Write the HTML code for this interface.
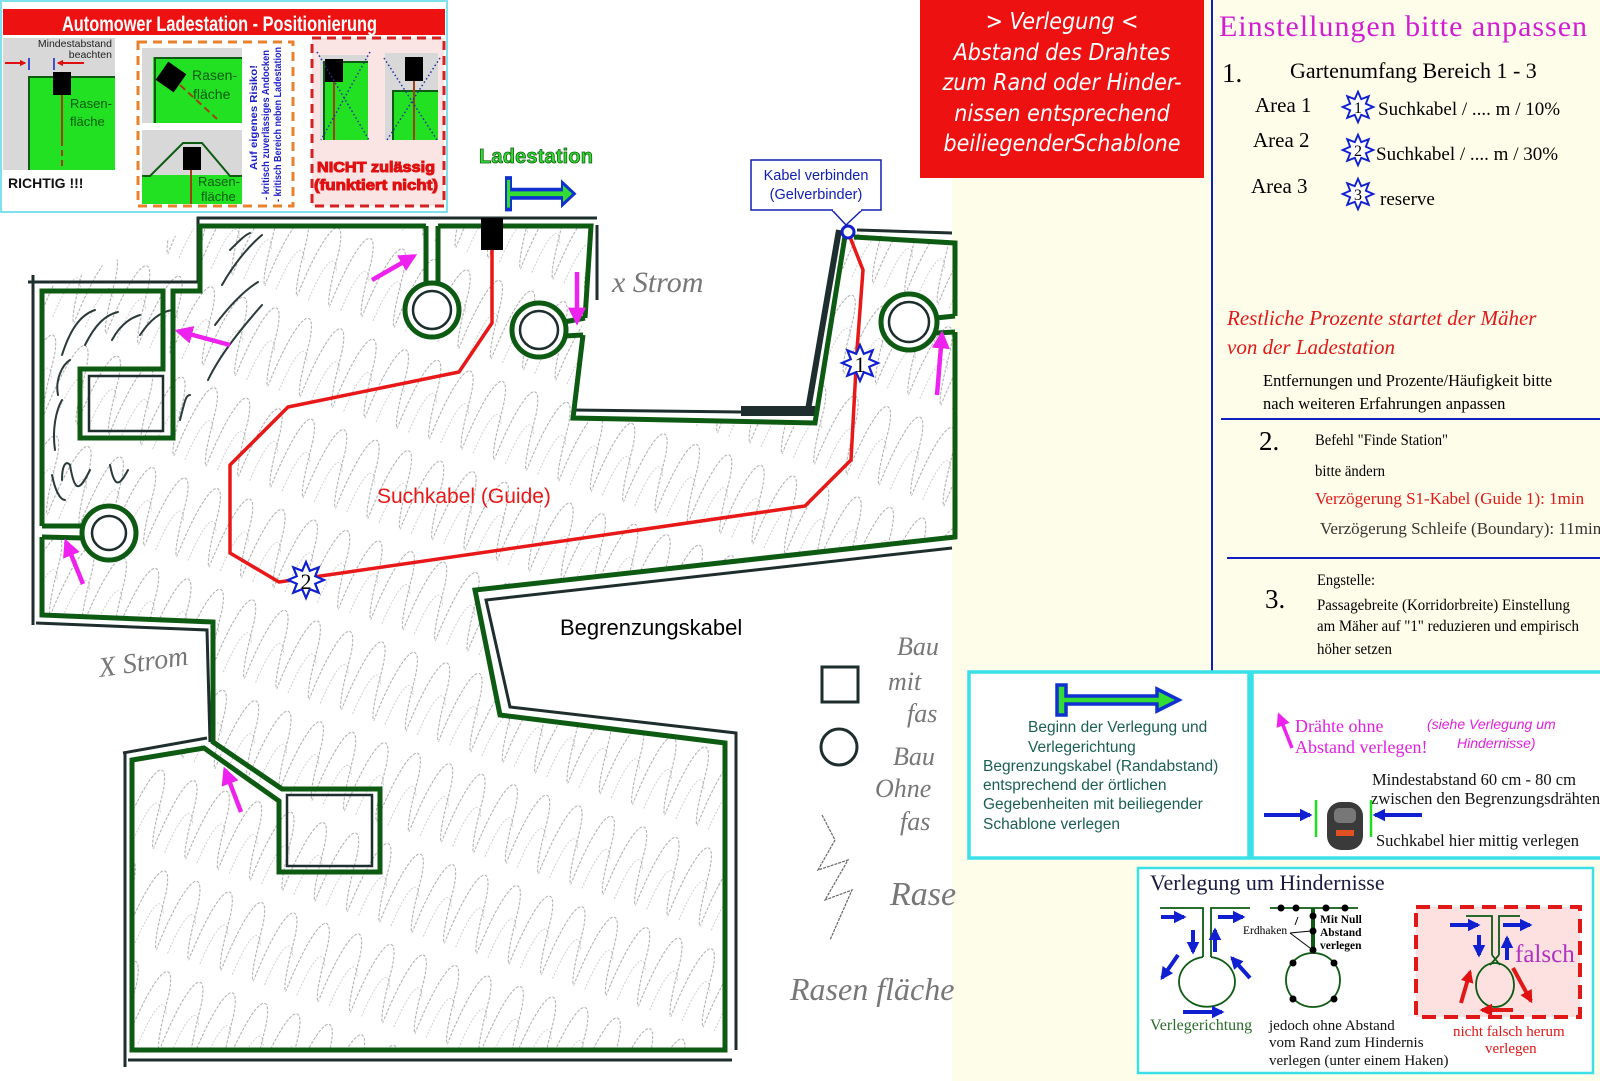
<!DOCTYPE html>
<html><head><meta charset="utf-8"><style>
html,body{margin:0;padding:0;background:#fff}
svg{display:block}
.sans{font-family:"Liberation Sans",sans-serif}
.serif{font-family:"Liberation Serif",serif}
.hand{font-family:"Liberation Serif",serif;font-style:italic;fill:#777}
</style></head><body>
<svg width="1600" height="1081" viewBox="0 0 1600 1081" xmlns="http://www.w3.org/2000/svg">
<defs>
<polygon id="star" points="0,-18 3.8,-9.2 12.7,-12.7 9.2,-3.8 18,0 9.2,3.8 12.7,12.7 3.8,9.2 0,18 -3.8,9.2 -12.7,12.7 -9.2,3.8 -18,0 -9.2,-3.8 -12.7,-12.7 -3.8,-9.2" fill="#fff" stroke="#1020d0" stroke-width="2.2"/>
<polygon id="startarrow" points="0,0 9,0 9,11 100,11 100,4 122,15 100,26 100,19 9,19 9,30 0,30" fill="#33dd33" stroke="#1030d0" stroke-width="3.5"/>
<marker id="mh" viewBox="0 0 10 10" refX="8" refY="5" markerWidth="4" markerHeight="4" orient="auto"><path d="M0,0 L10,5 L0,10 z" fill="#ee22ee"/></marker>
<marker id="bh" viewBox="0 0 10 10" refX="8" refY="5" markerWidth="3.2" markerHeight="3.2" orient="auto"><path d="M0,0 L10,5 L0,10 z" fill="#1020d0"/></marker>
<marker id="rh" viewBox="0 0 10 10" refX="8" refY="5" markerWidth="3.2" markerHeight="3.2" orient="auto"><path d="M0,0 L10,5 L0,10 z" fill="#e01010"/></marker>
<pattern id="scrib" width="34" height="95" patternUnits="userSpaceOnUse" patternTransform="rotate(18)">
<path d="M0,95 C6,10 22,0 26,40 C28,70 30,90 34,95" fill="none" stroke="#8a8a8a" stroke-width="0.9" stroke-dasharray="3 1.5"/>
<path d="M12,95 C16,50 24,40 30,60" fill="none" stroke="#aaa" stroke-width="0.7" stroke-dasharray="2 1.5"/>
</pattern>
<clipPath id="lawn"><polygon points="42,290 200,226 591,226 573,418 815,423 845,232 955,243 955,537 475,590 500,715 725,743 725,1050 132,1050 132,760 210,742 210,620 42,615"/></clipPath>
</defs>

<rect x="952" y="0" width="648" height="1081" fill="#fdfde9"/>

<rect x="0" y="200" width="960" height="860" fill="url(#scrib)" clip-path="url(#lawn)" opacity="0.8"/>
<g fill="none" stroke="#2a3a3a" stroke-width="2" stroke-linecap="round">
<path d="M62,355 C70,330 80,315 95,310"/><path d="M85,345 C95,325 105,315 118,312"/><path d="M112,340 C120,325 130,318 140,315"/><path d="M140,335 C150,320 160,312 172,310"/>
<path d="M58,395 C55,380 62,365 70,360"/><path d="M55,450 C52,430 56,410 62,400"/><path d="M52,475 C55,490 60,500 65,500"/>
<path d="M62,480 C62,465 66,460 70,465 C75,495 80,490 90,470"/>
<path d="M110,465 C115,490 120,485 128,470"/>
<path d="M230,250 C240,240 245,235 250,233"/><path d="M222,285 C235,262 250,245 262,235"/>
<path d="M215,325 C230,305 245,290 258,282"/><path d="M208,380 C220,355 240,330 262,305"/>
<path d="M180,420 C185,400 186,395 190,395"/>
</g>

<g fill="none" stroke="#1e2d2d" stroke-width="3">
<polyline points="28,282 198,282 198,218 597,218"/>
<line x1="597" y1="225" x2="597" y2="300"/>
<line x1="33" y1="275" x2="33" y2="625"/>
<polyline points="36,623 207,630 210,742"/>
<polyline points="123,753 207,738"/>
<polyline points="125,752 125,1067"/>
<polyline points="128,1060 732,1060"/>
<polyline points="736,1050 736,733 510,707 486,600 952,548"/>
<polyline points="573,410 741,412"/>
<polyline points="857,230 952,233"/>
</g>
<rect x="741" y="406" width="74" height="10" fill="#1e2d2d"/>
<line x1="808" y1="410" x2="839" y2="230" stroke="#1e2d2d" stroke-width="6"/>

<g fill="none" stroke="#0d5a12" stroke-width="5" stroke-linejoin="miter">
<polyline points="42,526 42,291 163,291 163,369 80,369 80,438 173,438 173,291 200,291 200,226 426,226"/>
<polyline points="438,226 591,226 585,318"/>
<polyline points="583,335 573,418 815,423 845,236"/>
<polyline points="854,237 955,243 955,316"/>
<polyline points="955,332 955,537 475,590 500,715 725,743 725,1050 132,1050 132,760 204,748 279,801 279,872 380,872 380,789 282,789 213,742 213,622 42,615 42,537"/>
<polyline points="426,226 426,284"/><polyline points="438,226 438,284"/>
<polyline points="585,318 564,322"/><polyline points="583,335 564,336"/>
<polyline points="955,316 936,318"/><polyline points="955,332 936,333"/>
<polyline points="42,526 84,526"/><polyline points="42,537 84,538"/>
</g>
<g fill="#fff" stroke="#0d5a12" stroke-width="5">
<circle cx="432" cy="310" r="27"/><circle cx="539" cy="330" r="27"/><circle cx="909" cy="322" r="28"/><circle cx="109" cy="533" r="27"/>
</g>
<g fill="none" stroke="#1e2d2d" stroke-width="2.5">
<circle cx="432" cy="310" r="19"/><circle cx="539" cy="330" r="19"/><circle cx="909" cy="322" r="20"/><circle cx="109" cy="533" r="17"/>
<rect x="89" y="376" width="74" height="55"/>
<rect x="287" y="795" width="85" height="71"/>
</g>

<rect x="481" y="218" width="22" height="32" fill="#000"/>

<polyline points="492,250 492,323 459,372 288,407 230,465 230,553 279,582 805,506 851,460 857,350 863,270 848,232" fill="none" stroke="#e81818" stroke-width="3.5" stroke-linejoin="round"/>
<circle cx="848" cy="232" r="6" fill="#fff" stroke="#1020d0" stroke-width="3"/>
<use href="#star" x="306" y="580"/><text x="306" y="589" text-anchor="middle" class="serif" font-size="22">2</text>
<use href="#star" x="860" y="363"/><text x="860" y="372" text-anchor="middle" class="serif" font-size="22">1</text>

<g stroke="#ee22ee" stroke-width="4.5" marker-end="url(#mh)">
<line x1="372" y1="280" x2="414" y2="256"/>
<line x1="230" y1="345" x2="178" y2="331"/>
<line x1="577" y1="272" x2="577" y2="322"/>
<line x1="937" y1="395" x2="942" y2="334"/>
<line x1="83" y1="584" x2="66" y2="542"/>
<line x1="241" y1="812" x2="225" y2="770"/>
</g>

<text x="377" y="503" class="sans" font-size="21" fill="#e81818">Suchkabel (Guide)</text>
<text x="560" y="635" class="sans" font-size="22" fill="#000">Begrenzungskabel</text>
<text x="612" y="292" class="hand" font-size="30">x Strom</text>
<text x="100" y="677" class="hand" font-size="28" transform="rotate(-8 100 677)">X Strom</text>

<rect x="822" y="667" width="36" height="35" fill="none" stroke="#1e2d2d" stroke-width="3"/>
<circle cx="839" cy="747" r="18" fill="none" stroke="#1e2d2d" stroke-width="3"/>
<g class="hand" font-size="26">
<text x="897" y="655">Bau</text><text x="888" y="690">mit</text><text x="907" y="722">fas</text>
<text x="893" y="765">Bau</text><text x="875" y="797">Ohne</text><text x="900" y="830">fas</text>
<text x="890" y="905" font-size="34">Rase</text><text x="790" y="1000" font-size="32">Rasen fläche</text>
</g>
<path d="M822,815 L835,840 L818,870 L848,860 L825,900 L852,890 L830,940" fill="none" stroke="#666" stroke-width="1.2" stroke-dasharray="3 1"/>

<text x="479" y="163" class="sans" font-size="20" font-weight="bold" fill="#33dd33" stroke="#106010" stroke-width="0.8" textLength="114">Ladestation</text>
<use href="#startarrow" transform="translate(506,178) scale(0.56,1.05)"/>

<rect x="751" y="160" width="130" height="50" fill="#fff" stroke="#1020b0" stroke-width="1.5"/>
<polyline points="832,210 846,225 862,210" fill="#fff" stroke="#1020b0" stroke-width="1.5"/>
<line x1="833" y1="210" x2="861" y2="210" stroke="#fff" stroke-width="2"/>
<text x="816" y="180" text-anchor="middle" class="sans" font-size="14.5" fill="#1020b0">Kabel verbinden</text>
<text x="816" y="199" text-anchor="middle" class="sans" font-size="14.5" fill="#1020b0">(Gelverbinder)</text>

<rect x="920" y="0" width="284" height="178" fill="#ee1111"/>
<g fill="#fff" font-family="DejaVu Sans Condensed, DejaVu Sans, sans-serif" font-style="italic" font-size="23" text-anchor="middle">
<text x="1062" y="29">&gt; Verlegung &lt;</text>
<text x="1062" y="60">Abstand des Drahtes</text>
<text x="1062" y="90">zum Rand oder Hinder-</text>
<text x="1062" y="121">nissen entsprechend</text>
<text x="1062" y="151">beiliegenderSchablone</text>
</g>

<rect x="1" y="1" width="446" height="211" fill="#fff" stroke="#7fe0ee" stroke-width="2"/>
<rect x="3" y="9" width="442" height="26" fill="#ee1111"/>
<text x="62" y="31" class="sans" font-size="21" font-weight="bold" fill="#fff" textLength="315" lengthAdjust="spacingAndGlyphs">Automower Ladestation - Positionierung</text>
<rect x="3" y="38" width="112" height="132" fill="#d8d8d8"/>
<rect x="28" y="76" width="87" height="94" fill="#22e022"/>
<polyline points="29,170 29,77 115,77" fill="none" stroke="#0d5a12" stroke-width="2"/>
<rect x="53" y="72" width="18" height="23" fill="#000"/>
<line x1="62" y1="95" x2="62" y2="140" stroke="#a04010" stroke-width="2"/>
<line x1="62" y1="140" x2="62" y2="170" stroke="#a04010" stroke-width="2" stroke-dasharray="6 4"/>
<text x="112" y="47" text-anchor="end" class="sans" font-size="10.5" fill="#222">Mindestabstand</text>
<text x="112" y="58" text-anchor="end" class="sans" font-size="10.5" fill="#222">beachten</text>
<line x1="5" y1="63" x2="25" y2="63" stroke="#e01010" stroke-width="2" marker-end="url(#rh)"/>
<line x1="84" y1="63" x2="58" y2="63" stroke="#e01010" stroke-width="2" marker-end="url(#rh)"/>
<line x1="29" y1="58" x2="29" y2="70" stroke="#1020d0" stroke-width="1.5"/><line x1="54" y1="58" x2="54" y2="70" stroke="#1020d0" stroke-width="1.5"/>
<text x="70" y="108" class="sans" font-size="13" fill="#0d5a12">Rasen-</text>
<text x="70" y="126" class="sans" font-size="13" fill="#0d5a12">fläche</text>
<text x="8" y="188" class="sans" font-size="14" font-weight="bold" fill="#111">RICHTIG !!!</text>

<rect x="138" y="42" width="155" height="164" fill="#fff" stroke="#e8822a" stroke-width="3" stroke-dasharray="9 6"/>
<rect x="142" y="48" width="100" height="75" fill="#d8d8d8"/>
<rect x="153" y="57" width="89" height="66" fill="#22e022"/>
<polyline points="155,123 155,58 242,58" fill="none" stroke="#0d5a12" stroke-width="2"/>
<rect x="160" y="66" width="22" height="22" fill="#000" transform="rotate(35 171 77)"/>
<line x1="180" y1="85" x2="217" y2="119" stroke="#a04010" stroke-width="2" stroke-dasharray="7 4"/>
<text x="192" y="80" class="sans" font-size="14" fill="#0d5a12">Rasen-</text>
<text x="193" y="99" class="sans" font-size="14" fill="#0d5a12">fläche</text>
<rect x="142" y="130" width="100" height="74" fill="#d8d8d8"/>
<rect x="142" y="175" width="100" height="29" fill="#22e022"/>
<polyline points="142,176 150,176 183,143 202,143 230,176 242,176" fill="none" stroke="#0d5a12" stroke-width="2"/>
<rect x="183" y="147" width="18" height="23" fill="#000"/>
<line x1="191" y1="170" x2="191" y2="204" stroke="#a04010" stroke-width="2"/>
<text x="198" y="186" class="sans" font-size="13" fill="#0d5a12">Rasen-</text>
<text x="201" y="201" class="sans" font-size="13" fill="#0d5a12">fläche</text>
<g class="sans" font-size="10.5" font-weight="bold" fill="#2020c8">
<text transform="translate(257,170) rotate(-90)" textLength="105" lengthAdjust="spacingAndGlyphs">Auf eigenes Risiko!</text>
<text transform="translate(269,200) rotate(-90)" textLength="150" lengthAdjust="spacingAndGlyphs">- kritisch zuverlässiges Andocken</text>
<text transform="translate(281,202) rotate(-90)" textLength="155" lengthAdjust="spacingAndGlyphs">- kritisch Bereich neben Ladestation</text>
</g>

<rect x="312" y="38" width="132" height="168" fill="#fbe4e4" stroke="#d42020" stroke-width="3" stroke-dasharray="9 6"/>
<rect x="320" y="55" width="48" height="85" fill="#d8d8d8"/>
<rect x="324" y="62" width="44" height="78" fill="#22e022"/>
<polyline points="324,140 324,62 368,62" fill="none" stroke="#0d5a12" stroke-width="2"/>
<rect x="325" y="59" width="18" height="23" fill="#000"/>
<line x1="334" y1="82" x2="334" y2="140" stroke="#a04010" stroke-width="2"/>
<rect x="385" y="53" width="53" height="87" fill="#d8d8d8"/>
<rect x="392" y="90" width="46" height="50" fill="#22e022"/>
<polyline points="393,140 393,91 438,91" fill="none" stroke="#0d5a12" stroke-width="2"/>
<rect x="405" y="57" width="18" height="24" fill="#000"/>
<line x1="414" y1="81" x2="414" y2="140" stroke="#a04010" stroke-width="2"/>
<g stroke="#2030a0" stroke-width="1.5" stroke-dasharray="1.5 2.5">
<line x1="317" y1="52" x2="369" y2="140"/><line x1="370" y1="52" x2="321" y2="140"/>
<line x1="384" y1="58" x2="437" y2="140"/><line x1="440" y1="58" x2="387" y2="140"/>
</g>
<text x="376" y="172" text-anchor="middle" class="sans" font-size="15" font-weight="bold" fill="#e01010" stroke="#e01010" stroke-width="1" textLength="118" lengthAdjust="spacingAndGlyphs">NICHT zulässig</text>
<text x="376" y="190" text-anchor="middle" class="sans" font-size="15" font-weight="bold" fill="#e01010" stroke="#e01010" stroke-width="1" textLength="124" lengthAdjust="spacingAndGlyphs">(funktiert nicht)</text>

<line x1="1212" y1="0" x2="1212" y2="673" stroke="#1020c0" stroke-width="2"/>
<g class="serif">
<text x="1219" y="36" font-size="30" fill="#d21ed2" textLength="368">Einstellungen bitte anpassen</text>
<text x="1222" y="82" font-size="27">1.</text>
<text x="1290" y="78" font-size="22">Gartenumfang Bereich 1 - 3</text>
<text x="1255" y="112" font-size="21">Area 1</text>
<text x="1253" y="147" font-size="21">Area 2</text>
<text x="1251" y="193" font-size="21">Area 3</text>
<text x="1378" y="115" font-size="19">Suchkabel / .... m / 10%</text>
<text x="1376" y="160" font-size="19">Suchkabel / .... m / 30%</text>
<text x="1380" y="205" font-size="19">reserve</text>
<text x="1227" y="325" font-size="21" font-style="italic" fill="#e01818">Restliche Prozente  startet der Mäher</text>
<text x="1227" y="354" font-size="21" font-style="italic" fill="#e01818">von der Ladestation</text>
<text x="1263" y="386" font-size="16.5">Entfernungen und Prozente/Häufigkeit bitte</text>
<text x="1263" y="409" font-size="16.5">nach weiteren Erfahrungen anpassen</text>
<text x="1259" y="450" font-size="27">2.</text>
<text x="1315" y="445" font-size="16" textLength="133" lengthAdjust="spacingAndGlyphs">Befehl "Finde Station"</text>
<text x="1315" y="476" font-size="16" textLength="70" lengthAdjust="spacingAndGlyphs">bitte ändern</text>
<text x="1315" y="504" font-size="17" fill="#e01818">Verzögerung S1-Kabel (Guide 1): 1min</text>
<text x="1320" y="534" font-size="17" fill="#333">Verzögerung Schleife (Boundary): 11min</text>
<text x="1317" y="585" font-size="16" textLength="58" lengthAdjust="spacingAndGlyphs">Engstelle:</text>
<text x="1265" y="608" font-size="27">3.</text>
<text x="1317" y="610" font-size="16" textLength="253" lengthAdjust="spacingAndGlyphs">Passagebreite (Korridorbreite) Einstellung</text>
<text x="1317" y="631" font-size="16" textLength="262" lengthAdjust="spacingAndGlyphs">am Mäher auf "1" reduzieren und empirisch</text>
<text x="1317" y="654" font-size="16" textLength="75" lengthAdjust="spacingAndGlyphs">höher setzen</text>
</g>
<line x1="1221" y1="419" x2="1600" y2="419" stroke="#1020c0" stroke-width="2"/>
<line x1="1227" y1="558" x2="1600" y2="558" stroke="#1020c0" stroke-width="2"/>
<g transform="translate(1358,107) scale(0.85)"><use href="#star"/></g><text x="1358" y="113" text-anchor="middle" class="serif" font-size="16">1</text>
<g transform="translate(1358,150) scale(0.85)"><use href="#star"/></g><text x="1358" y="156" text-anchor="middle" class="serif" font-size="16">2</text>
<g transform="translate(1358,194) scale(0.85)"><use href="#star"/></g><text x="1358" y="200" text-anchor="middle" class="serif" font-size="16">3</text>

<rect x="969" y="672" width="280" height="186" fill="#fff" stroke="#3ae0e8" stroke-width="3.5"/>
<use href="#startarrow" x="1057" y="685"/>
<g class="sans" font-size="15.5" fill="#1b5e55">
<text x="1028" y="732">Beginn der Verlegung und</text>
<text x="1028" y="752">Verlegerichtung</text>
<text x="983" y="771">Begrenzungskabel (Randabstand)</text>
<text x="983" y="790">entsprechend der örtlichen</text>
<text x="983" y="809">Gegebenheiten mit beiliegender</text>
<text x="983" y="829">Schablone verlegen</text>
</g>

<rect x="1252" y="672" width="350" height="186" fill="#fff" stroke="#3ae0e8" stroke-width="3.5"/>
<line x1="1292" y1="748" x2="1279" y2="715" stroke="#ee22ee" stroke-width="3.5" marker-end="url(#mh)"/>
<text x="1295" y="732" class="serif" font-size="18" fill="#e020e0">Drähte ohne</text>
<text x="1295" y="753" class="serif" font-size="18" fill="#e020e0">Abstand verlegen!</text>
<text x="1427" y="729" class="sans" font-size="14" font-style="italic" fill="#e020e0">(siehe Verlegung um</text>
<text x="1457" y="748" class="sans" font-size="14" font-style="italic" fill="#e020e0">Hindernisse)</text>
<text x="1372" y="785" class="serif" font-size="16.5" fill="#111">Mindestabstand 60 cm - 80 cm</text>
<text x="1371" y="804" class="serif" font-size="16.5" fill="#111">zwischen den Begrenzungsdrähten</text>
<text x="1376" y="846" class="serif" font-size="16.5" fill="#111">Suchkabel hier mittig verlegen</text>
<line x1="1264" y1="815" x2="1310" y2="815" stroke="#1020d0" stroke-width="4" marker-end="url(#bh)"/>
<line x1="1422" y1="815" x2="1375" y2="815" stroke="#1020d0" stroke-width="4" marker-end="url(#bh)"/>
<line x1="1316" y1="800" x2="1316" y2="837" stroke="#22dd22" stroke-width="2.5"/>
<line x1="1371" y1="800" x2="1371" y2="837" stroke="#22dd22" stroke-width="2.5"/>
<rect x="1327" y="802" width="36" height="48" rx="14" fill="#3a3a3a"/>
<rect x="1334" y="808" width="22" height="15" rx="5" fill="#777"/>
<rect x="1336" y="830" width="18" height="6" fill="#e05020"/>

<rect x="1138" y="868" width="455" height="205" fill="#fff" stroke="#3ae0e8" stroke-width="2.5"/>
<text x="1150" y="890" class="serif" font-size="22" fill="#1a1a40">Verlegung um Hindernisse</text>
<g fill="none" stroke="#0d5a12" stroke-width="1.8">
<polyline points="1160,908 1203,908 1203,957"/><polyline points="1250,908 1211,908 1211,957"/>
<path d="M1203,957 A28,25 0 1 0 1211,957"/>
<line x1="1270" y1="908" x2="1358" y2="908"/>
<circle cx="1313" cy="980" r="27"/>
</g>
<line x1="1313" y1="908" x2="1313" y2="952" stroke="#0d5a12" stroke-width="4"/>
<g fill="#000"><circle cx="1281" cy="908" r="3.5"/><circle cx="1296" cy="908" r="3.5"/><circle cx="1326" cy="908" r="3.5"/><circle cx="1345" cy="908" r="3.5"/>
<circle cx="1313" cy="916" r="3.5"/><circle cx="1313" cy="931" r="3.5"/><circle cx="1313" cy="950" r="3.5"/>
<circle cx="1293" cy="963" r="3.5"/><circle cx="1334" cy="963" r="3.5"/><circle cx="1293" cy="999" r="3.5"/><circle cx="1334" cy="999" r="3.5"/></g>
<g stroke="#000" stroke-width="1"><line x1="1298" y1="917" x2="1295" y2="925"/><line x1="1290" y1="933" x2="1311" y2="931"/><line x1="1290" y1="933" x2="1310" y2="948"/></g>
<text x="1243" y="934" class="serif" font-size="11.5">Erdhaken</text>
<text x="1320" y="923" class="serif" font-size="11.5" font-weight="bold">Mit Null</text>
<text x="1320" y="936" class="serif" font-size="11.5" font-weight="bold">Abstand</text>
<text x="1320" y="949" class="serif" font-size="11.5" font-weight="bold">verlegen</text>
<g stroke="#1020d0" stroke-width="4" marker-end="url(#bh)">
<line x1="1161" y1="917" x2="1184" y2="917"/><line x1="1218" y1="917" x2="1243" y2="917"/>
<line x1="1193" y1="930" x2="1193" y2="952"/><line x1="1215" y1="952" x2="1215" y2="930"/>
<line x1="1178" y1="955" x2="1162" y2="978"/><line x1="1250" y1="978" x2="1232" y2="958"/>
<line x1="1183" y1="1012" x2="1222" y2="1012"/>
</g>
<text x="1150" y="1030" class="serif" font-size="16" fill="#2a6a2a">Verlegerichtung</text>
<g class="serif" font-size="15" fill="#111">
<text x="1269" y="1030">jedoch ohne Abstand</text>
<text x="1269" y="1047">vom Rand zum Hindernis</text>
<text x="1269" y="1065">verlegen (unter einem Haken)</text>
</g>
<rect x="1416" y="907" width="164" height="110" fill="#fde0e0" stroke="#e01818" stroke-width="4" stroke-dasharray="14 8"/>
<g fill="none" stroke="#0d5a12" stroke-width="1.8">
<polyline points="1466,916 1492,916 1492,955"/><polyline points="1520,916 1499,916 1499,955"/>
<path d="M1492,955 L1500,965 M1499,955 L1490,965"/>
<ellipse cx="1495" cy="985" rx="19" ry="22"/>
</g>
<g stroke="#1020d0" stroke-width="4" marker-end="url(#bh)">
<line x1="1450" y1="925" x2="1478" y2="925"/><line x1="1503" y1="925" x2="1530" y2="925"/>
<line x1="1479" y1="935" x2="1479" y2="955"/><line x1="1507" y1="960" x2="1507" y2="938"/>
</g>
<g stroke="#e01818" stroke-width="4" marker-end="url(#rh)">
<line x1="1461" y1="1003" x2="1470" y2="972"/><line x1="1513" y1="968" x2="1531" y2="1001"/><line x1="1513" y1="1010" x2="1482" y2="1010"/>
</g>
<text x="1515" y="962" class="serif" font-size="25" fill="#b030c0">falsch</text>
<text x="1453" y="1036" class="serif" font-size="15" fill="#e01818">nicht falsch herum</text>
<text x="1485" y="1053" class="serif" font-size="15" fill="#e01818">verlegen</text>
</svg>
</body></html>
